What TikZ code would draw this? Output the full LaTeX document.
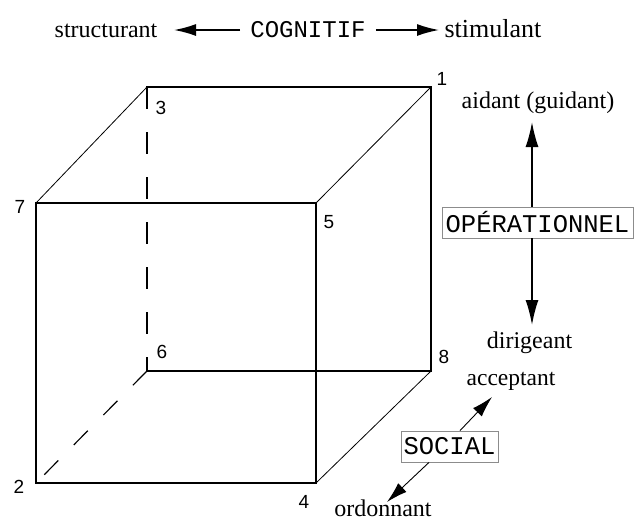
\documentclass[tikz,border=0pt]{standalone}
\usepackage{fontspec}
\setmainfont{Liberation Serif}
\newfontfamily\monof{Liberation Mono}
\newfontfamily\digf{Liberation Sans}
\usetikzlibrary{arrows.meta}
\tikzset{
  edge/.style={line width=1.6pt, line cap=rect},
  thinedge/.style={line width=0.8pt},
  hidden/.style={line width=1.6pt, dash pattern=on 22pt off 23pt},
  hiddendiag/.style={line width=1.2pt, dash pattern=on 20pt off 22pt},
  digit/.style={font=\digf\fontsize{19}{19}\selectfont, inner sep=0pt},
  word/.style={font=\fontsize{24}{24}\selectfont, inner sep=0pt, anchor=base},
  caps/.style={font=\monof\fontsize{24}{24}\selectfont, inner ysep=0pt, inner xsep=10pt, anchor=base},
  capbox/.style={font=\monof\fontsize{25.5}{25.5}\selectfont, draw=black!45, line width=0.8pt, inner sep=0pt},
  bigarrow/.style={line width=1.6pt, -{Latex[length=25pt,width=13pt]}},
  toparrow/.style={line width=1.6pt, -{Latex[length=22pt,width=12pt]}},
  diagarrow/.style={line width=0.9pt, -{Latex[length=21pt,width=12pt]}}
}
\begin{document}
\begin{tikzpicture}[x=1pt,y=-1pt]
\useasboundingbox (0,0) rectangle (634,523);
% cube corners
\coordinate (c1) at (431,87);
\coordinate (c3) at (147,87);
\coordinate (c7) at (36,203);
\coordinate (c5) at (316,203);
\coordinate (c6) at (147,371);
\coordinate (c8) at (431,371);
\coordinate (c2) at (36,483);
\coordinate (c4) at (316,483);
% hidden edges
\draw[hidden] (c3) -- (c6);
\draw[hiddendiag] (c6) -- (c2);
% back edges
\draw[edge] (c3) -- (c1) -- (c8) -- (c6);
% diagonal edges
\draw[thinedge] (c3) -- (c7);
\draw[thinedge] (c1) -- (c5);
\draw[thinedge] (c8) -- (c4);
% front face
\draw[edge] (c7) -- (c5) -- (c4) -- (c2) -- cycle;
% corner labels
\node[digit] (l1) at (442,79) {1};
\node[digit] (l3) at (161,108) {3};
\node[digit] (l7) at (20,207) {7};
\node[digit] (l5) at (329,222) {5};
\node[digit] (l6) at (162,352) {6};
\node[digit] (l8) at (444,357) {8};
\node[digit] (l2) at (19,487) {2};
\node[digit] (l4) at (304,502) {4};
% top: cognitif
\node[caps] (cog) at (308,37) {COGNITIF};
\node[word, font=\fontsize{24}{24}\selectfont] (struct) at (106,37) {structurant};
\node[word, font=\fontsize{26}{26}\selectfont] (stim) at (493,37) {stimulant};
\coordinate (tipL) at (174,30);
\coordinate (tipR) at (439,30);
\draw[toparrow] (cog.west |- tipL) -- (tipL);
\draw[toparrow] (cog.east |- tipR) -- (tipR);
% right: operationnel
\node[capbox, minimum width=191pt, minimum height=31pt] (op) at (537.5,222.5) {OPÉRATIONNEL};
\node[word] (aid) at (538,108) {aidant (guidant)};
\node[word] (dir) at (529.5,348) {dirigeant};
\coordinate (tipU) at (532,122);
\coordinate (tipD) at (532,325);
\draw[bigarrow] (tipU |- op.north) -- (tipU);
\draw[bigarrow] (tipD |- op.south) -- (tipD);
% social
\node[capbox, minimum width=97pt, minimum height=31pt] (soc) at (449.5,446.5) {SOCIAL};
\node[word, font=\fontsize{23.5}{23.5}\selectfont] (acc) at (511,385) {acceptant};
\node[word] (ord) at (383,516) {ordonnant};
\coordinate (tipA) at (492,397);
\coordinate (tipO) at (387,502);
\draw[diagarrow] ([xshift=10.5pt]soc.north) -- (tipA);
\draw[diagarrow] ([xshift=-20.5pt]soc.south) -- (tipO);
\end{tikzpicture}
\end{document}
